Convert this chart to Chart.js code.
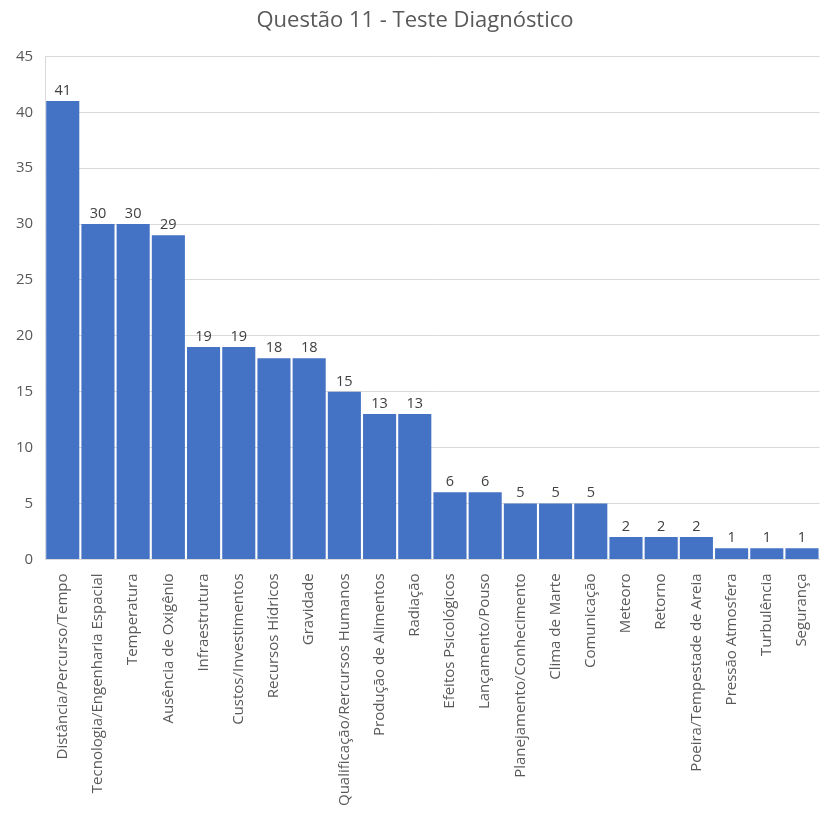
<!DOCTYPE html>
<html>
<head>
<meta charset="utf-8">
<script src="https://cdn.jsdelivr.net/npm/chart.js@4"></script>
<style>
  html, body { margin: 0; padding: 0; background: #fff; }
  #chart { display: block; }
</style>
</head>
<body>
<canvas id="chart" width="826" height="816"></canvas>
<script>
const categories = [
  'Distância/Percurso/Tempo', 'Tecnologia/Engenharia Espacial', 'Temperatura',
  'Ausência de Oxigênio', 'Infraestrutura', 'Custos/Investimentos',
  'Recursos Hídricos', 'Gravidade', 'Qualificação/Rercursos Humanos',
  'Produção de Alimentos', 'Radiação', 'Efeitos Psicológicos',
  'Lançamento/Pouso', 'Planejamento/Conhecimento', 'Clima de Marte',
  'Comunicação', 'Meteoro', 'Retorno', 'Poeira/Tempestade de Areia',
  'Pressão Atmosfera', 'Turbulência', 'Segurança'
];
const counts = [41, 30, 30, 29, 19, 19, 18, 18, 15, 13, 13, 6, 6, 5, 5, 5, 2, 2, 2, 1, 1, 1];
const yTicks = [0, 5, 10, 15, 20, 25, 30, 35, 40, 45];

const FONT = "'Open Sans', 'Noto Sans', sans-serif";

// Value labels above each bar
const barLabels = {
  id: 'barLabels',
  afterDatasetsDraw(chart) {
    const ctx = chart.ctx;
    const meta = chart.getDatasetMeta(0);
    ctx.save();
    ctx.fillStyle = '#404040';
    ctx.font = '14.5px ' + FONT;
    ctx.textAlign = 'center';
    ctx.textBaseline = 'bottom';
    meta.data.forEach((bar, i) => {
      ctx.fillText(String(counts[i]), bar.x, bar.y - 3);
    });
    ctx.restore();
  }
};

const ctx = document.getElementById('chart').getContext('2d');
new Chart(ctx, {
  type: 'bar',
  data: {
    labels: categories,
    datasets: [{
      data: counts,
      backgroundColor: '#4472C4',
      borderWidth: 0,
      barPercentage: 0.94,
      categoryPercentage: 1.0
    }]
  },
  options: {
    responsive: false,
    animation: false,
    layout: { padding: { left: 4, right: 0, top: 0, bottom: 4 } },
    plugins: {
      legend: { display: false },
      tooltip: { enabled: false },
      title: {
        display: true,
        text: 'Questão 11 - Teste Diagnóstico',
        color: '#595959',
        font: { family: FONT, size: 22, weight: 'normal' },
        padding: { top: 8, bottom: 22 }
      }
    },
    scales: {
      x: {
        grid: { display: false },
        border: { display: true, color: '#d9d9d9' },
        ticks: {
          color: '#595959',
          font: { family: FONT, size: 15 },
          minRotation: 90,
          maxRotation: 90,
          autoSkip: false,
          padding: 6
        }
      },
      y: {
        min: 0,
        max: 45,
        afterBuildTicks(axis) {
          axis.ticks = yTicks.map(v => ({ value: v }));
        },
        grid: { color: '#d9d9d9', drawTicks: false },
        border: { display: true, color: '#d9d9d9' },
        ticks: {
          color: '#595959',
          font: { family: FONT, size: 15 },
          padding: 12
        }
      }
    }
  },
  plugins: [barLabels]
});
</script>
</body>
</html>
